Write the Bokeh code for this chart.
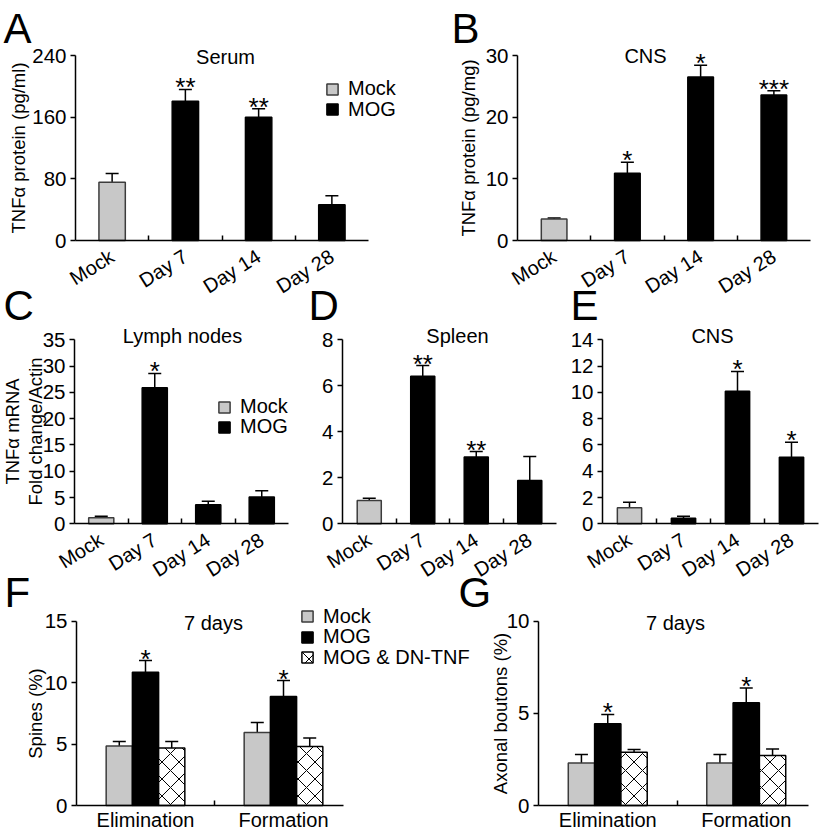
import numpy as np
from bokeh.plotting import figure
from bokeh.layouts import column, row
from bokeh.models import (Range1d, FixedTicker, Label, Legend, LegendItem,
                          Whisker, TeeHead, ColumnDataSource, CDSView, IndexFilter)
from bokeh.core.properties import value
from bokeh.embed import file_html
from bokeh.resources import INLINE

# ---------------- data ----------------
timepoints = ["Mock", "Day 7", "Day 14", "Day 28"]

serum_mean = [75.5, 180.5, 160.0, 46.5]
serum_sem = [11.5, 15.5, 11.0, 11.5]
serum_sig = ["", "**", "**", ""]
serum_ticks = [0, 80, 160, 240]

cns_protein_mean = [3.5, 10.9, 26.5, 23.6]
cns_protein_sem = [0.15, 1.8, 1.9, 0.7]
cns_protein_sig = ["", "*", "*", "***"]
cns_protein_ticks = [0, 10, 20, 30]

lymph_mean = [1.15, 25.9, 3.6, 5.1]
lymph_sem = [0.3, 2.7, 0.7, 1.2]
lymph_sig = ["", "*", "", ""]
lymph_ticks = [0, 5, 10, 15, 20, 25, 30, 35]

spleen_mean = [1.01, 6.42, 2.9, 1.88]
spleen_sem = [0.1, 0.46, 0.24, 1.05]
spleen_sig = ["", "**", "**", ""]
spleen_ticks = [0, 2, 4, 6, 8]

cns_mrna_mean = [1.22, 0.43, 10.09, 5.07]
cns_mrna_sem = [0.42, 0.15, 1.5, 1.13]
cns_mrna_sig = ["", "", "*", "*"]
cns_mrna_ticks = [0, 2, 4, 6, 8, 10, 12, 14]

measures = ["Elimination", "Formation"]
treatments = ["Mock", "MOG", "MOG & DN-TNF"]

spines_mock = [4.85, 5.95]
spines_mock_sem = [0.35, 0.8]
spines_mog = [10.85, 8.87]
spines_mog_sem = [0.95, 1.3]
spines_dn = [4.67, 4.8]
spines_dn_sem = [0.53, 0.7]
spines_sig = ["*", "*"]
spines_ticks = [0, 5, 10, 15]

boutons_mock = [2.3, 2.3]
boutons_mock_sem = [0.47, 0.47]
boutons_mog = [4.43, 5.57]
boutons_mog_sem = [0.51, 0.81]
boutons_dn = [2.89, 2.71]
boutons_dn_sem = [0.15, 0.36]
boutons_sig = ["*", "*"]
boutons_ticks = [0, 5, 10]

# ---------------- layout / style ----------------
FONT = "Liberation Sans"
MOCK_FILL = "#c8c8c8"
MOCK_LINE = "#3c3c3c"
TICK_FS = "20.5px"
CAT_FS = "20px"
TITLE_FS = "20px"
LEG_FS = "20px"
YLAB_FS = "18.5px"
STAR_FS = "26px"
LETTER_FS = "42px"

# canvas extents (reference pixels); neighbouring canvases overlap slightly
ROW1 = (0, 300)
ROW2 = (278, 580)
ROW3 = (566, 832)
G_LEFT = 455


class Panel:
    """One chart; the frame covers the whole canvas, axes sit at fixed data locations."""

    def __init__(self, box, axis_x, zero_y, cat_px, yticks, ytick_px, ylabel, xlabels,
                 rotate, x_axis_end, ylab_standoff=4, ylab_line_height=1.15, margin=None):
        x0, x1, y0, y1 = box
        self.x0, self.y1 = x0, y1
        ymax = yticks[-1]
        k = ymax / (zero_y - ytick_px)
        kw = {} if margin is None else {"margin": margin}
        p = figure(width=x1 - x0, height=y1 - y0, min_border=0,
                   x_range=Range1d(0.5 - (axis_x - x0) / cat_px, 0.5 + (x1 - axis_x) / cat_px),
                   y_range=Range1d(-(y1 - zero_y) * k, (zero_y - y0) * k),
                   output_backend="svg", toolbar_location=None, **kw)
        p.xgrid.visible = False
        p.ygrid.visible = False
        p.outline_line_color = None
        p.background_fill_color = None
        p.border_fill_color = None

        yax = p.yaxis[0]
        yax.fixed_location = 0.5
        yax.ticker = FixedTicker(ticks=yticks, minor_ticks=[])
        yax.bounds = (0, ymax)
        yax.axis_label = ylabel
        yax.axis_label_text_font = FONT
        yax.axis_label_text_font_size = YLAB_FS
        yax.axis_label_text_font_style = "normal"
        yax.axis_label_text_color = "black"
        yax.axis_label_text_line_height = ylab_line_height
        yax.axis_label_standoff = ylab_standoff
        yax.major_label_text_font = FONT
        yax.major_label_text_font_size = TICK_FS
        yax.major_label_text_color = "black"
        yax.major_label_standoff = 4
        yax.major_tick_in = 0
        yax.major_tick_out = 5
        yax.major_tick_line_width = 1.5
        yax.axis_line_width = 1.5
        yax.minor_tick_line_color = None

        xax = p.xaxis[0]
        xax.fixed_location = 0
        pos = list(range(1, len(xlabels) + 1))
        xax.ticker = FixedTicker(ticks=pos, minor_ticks=[c + 0.5 for c in pos[:-1]])
        xax.major_label_overrides = dict(zip(pos, xlabels))
        xax.bounds = (0.5, 0.5 + (x_axis_end - axis_x) / cat_px)
        xax.major_tick_in = 0
        xax.major_tick_out = 0
        xax.major_tick_line_color = None
        xax.minor_tick_in = 5
        xax.minor_tick_out = 0
        xax.minor_tick_line_width = 1.5
        xax.minor_tick_line_color = "black"
        xax.axis_line_width = 1.5
        xax.major_label_text_font = FONT
        xax.major_label_text_font_size = CAT_FS
        xax.major_label_text_color = "black"
        if rotate:
            xax.major_label_orientation = 0.56
            xax.major_label_standoff = 14
        else:
            xax.major_label_orientation = "horizontal"
            xax.major_label_standoff = 3
        self.p = p

    def sx(self, x):
        return x - self.x0

    def sy(self, y):
        return self.y1 - y

    def text(self, x, y, txt, size=TITLE_FS, align="center"):
        self.p.add_layout(Label(x=self.sx(x), y=self.sy(y), x_units="screen", y_units="screen",
                                text=txt, text_font=FONT, text_font_size=size,
                                text_align=align, text_baseline="middle", text_color="black"))

    def letter(self, x, baseline_y, txt):
        # middle of the capital sits about 15 px above its baseline at 42 px
        self.text(x, baseline_y - 15, txt, LETTER_FS, align="left")

    def legend(self, items, left, first_center, pitch):
        row_h = 25
        for i, (lab, rend) in enumerate(items):
            centre = first_center + i * pitch
            leg = Legend(items=[LegendItem(label=lab, renderers=[rend])],
                         location=(self.sx(left), self.sy(centre + row_h / 2)),
                         border_line_color=None, background_fill_alpha=0,
                         padding=0, margin=0, spacing=0,
                         glyph_width=14, glyph_height=14,
                         label_height=row_h, label_standoff=9,
                         label_text_font=FONT, label_text_font_size=LEG_FS,
                         label_text_color="black")
            self.p.add_layout(leg)

    def errorbars_and_stars(self, src):
        p = self.p
        p.add_layout(Whisker(base="x", upper="hi", lower="top", source=src,
                             lower_head=None,
                             upper_head=TeeHead(size=13, line_width=1.5, line_color="black"),
                             line_width=1.5, line_color="black"))
        p.text(x="x", y="hi", text="sig", source=src, text_align="center",
               text_baseline="alphabetic", text_font=value(FONT),
               text_font_size=value(STAR_FS), text_color="black", y_offset=-2)


def timecourse(panel, means, sems, sig, bar_w):
    p = panel.p
    m = np.asarray(means, dtype=float)
    e = np.asarray(sems, dtype=float)
    pos = np.arange(1, len(m) + 1)
    src = ColumnDataSource(dict(x=pos, top=m, hi=m + e, sig=list(sig)))
    r_mock = p.vbar(x="x", top="top", width=bar_w, source=src,
                    view=CDSView(filter=IndexFilter([0])),
                    fill_color=MOCK_FILL, line_color=MOCK_LINE, line_width=1.5)
    r_mog = p.vbar(x="x", top="top", width=bar_w, source=src,
                   view=CDSView(filter=IndexFilter(list(range(1, len(m))))),
                   fill_color="black", line_color="black", line_width=1.5)
    panel.errorbars_and_stars(src)
    return r_mock, r_mog


def grouped(panel, series, sig, bar_w):
    p = panel.p
    rends = []
    for i, (means, sems, style) in enumerate(series):
        m = np.asarray(means, dtype=float)
        e = np.asarray(sems, dtype=float)
        x = np.arange(1, len(m) + 1) + (i - 1) * bar_w
        s = sig if i == 1 else [""] * len(m)
        src = ColumnDataSource(dict(x=x, top=m, hi=m + e, sig=list(s)))
        rends.append(p.vbar(x="x", top="top", width=bar_w, source=src, line_width=1.5, **style))
        panel.errorbars_and_stars(src)
    return rends


mock_style = dict(fill_color=MOCK_FILL, line_color=MOCK_LINE)
mog_style = dict(fill_color="black", line_color="black")
dn_style = dict(fill_color="white", line_color="black", hatch_pattern="diagonal_cross",
                hatch_color="black", hatch_scale=17, hatch_weight=1)

# ---------------- panels ----------------
pA = Panel((0, 410) + ROW1, 75, 240, 73.25, serum_ticks, 55,
           "TNFα protein (pg/ml)", timepoints, True, 368, ylab_standoff=0)
rm, rg = timecourse(pA, serum_mean, serum_sem, serum_sig, 0.36)
pA.legend([("Mock", rm), ("MOG", rg)], 325, 88.5, 20.5)
pA.text(225, 56, "Serum")
pA.letter(3, 43, "A")

pB = Panel((410, 820) + ROW1, 517, 240, 73.25, cns_protein_ticks, 55,
           "TNFα protein (pg/mg)", timepoints, True, 810)
timecourse(pB, cns_protein_mean, cns_protein_sem, cns_protein_sig, 0.35)
pB.text(645, 55, "CNS")
pB.letter(451, 43, "B")

pC = Panel((0, 300) + ROW2, 74, 523.3, 53.5, lymph_ticks, 339.3,
           "TNFα mRNA\nFold change/Actin", timepoints, True, 288,
           ylab_standoff=-6, ylab_line_height=1.1)
rm, rg = timecourse(pC, lymph_mean, lymph_sem, lymph_sig, 0.47)
pC.legend([("Mock", rm), ("MOG", rg)], 217, 406.7, 20)
pC.text(182, 335, "Lymph nodes")
pC.letter(3, 320, "C")

pD = Panel((300, 560) + ROW2, 342, 523.3, 53.5, spleen_ticks, 339.3,
           "", timepoints, True, 556)
timecourse(pD, spleen_mean, spleen_sem, spleen_sig, 0.45)
pD.text(457, 335, "Spleen")
pD.letter(308, 320, "D")

pE = Panel((560, 820) + ROW2, 602, 523.3, 54, cns_mrna_ticks, 339.3,
           "", timepoints, True, 818)
timecourse(pE, cns_mrna_mean, cns_mrna_sem, cns_mrna_sig, 0.45)
pE.text(712, 335, "CNS")
pE.letter(570, 320, "E")

pF = Panel((0, 472) + ROW3, 76, 805, 138, spines_ticks, 620.7,
           "Spines (%)", measures, False, 343, ylab_standoff=-4)
rF = grouped(pF, [(spines_mock, spines_mock_sem, mock_style),
                  (spines_mog, spines_mog_sem, mog_style),
                  (spines_dn, spines_dn_sem, dn_style)], spines_sig, 0.19)
pF.legend(list(zip(treatments, rF)), 300, 616, 20.7)
pF.text(213, 622, "7 days")
pF.letter(4, 607, "F")

pG = Panel((G_LEFT, 820) + ROW3, 538, 805, 138.5, boutons_ticks, 620.7,
           "Axonal boutons (%)", measures, False, 808, ylab_standoff=-7,
           margin=(0, 0, 0, G_LEFT - 472))
grouped(pG, [(boutons_mock, boutons_mock_sem, mock_style),
             (boutons_mog, boutons_mog_sem, mog_style),
             (boutons_dn, boutons_dn_sem, dn_style)], boutons_sig, 0.19)
pG.text(675, 622, "7 days")
pG.letter(458, 607, "G")

row1 = row(pA.p, pB.p)
row2 = row(pC.p, pD.p, pE.p, margin=(ROW2[0] - ROW1[1], 0, 0, 0))
row3 = row(pF.p, pG.p, margin=(ROW3[0] - ROW2[1], 0, 0, 0))
layout = column(row1, row2, row3)
open("out.html", "w").write(file_html(layout, INLINE))
